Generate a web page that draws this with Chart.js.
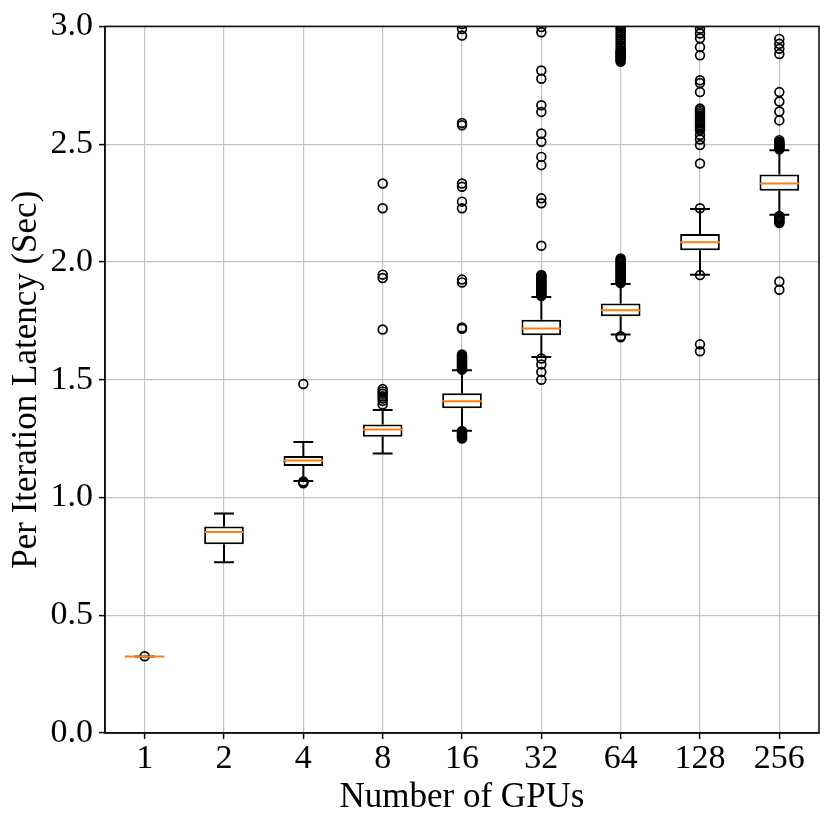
<!DOCTYPE html>
<html>
<head>
<meta charset="utf-8">
<script src="https://cdn.jsdelivr.net/npm/chart.js@4.4.1/dist/chart.umd.min.js"></script>
<style>
  html, body { margin: 0; padding: 0; background: #fff; overflow: hidden; }
  canvas { display: block; }
</style>
</head>
<body>
<canvas id="latencyChart" width="831" height="827"></canvas>
<script>
// Per-iteration latency distribution by GPU count
const gpuLabels = ['1', '2', '4', '8', '16', '32', '64', '128', '256'];
const q1 = [0.324, 0.801, 1.134, 1.258, 1.379, 1.689, 1.769, 2.050, 2.302];
const q3 = [0.326, 0.877, 1.176, 1.310, 1.442, 1.755, 1.823, 2.119, 2.371];
const medians = [0.325, 0.853, 1.157, 1.289, 1.409, 1.717, 1.795, 2.084, 2.333];
const whiskerLow = [0.325, 0.725, 1.070, 1.187, 1.283, 1.596, 1.692, 1.946, 2.200];
const whiskerHigh = [0.325, 0.932, 1.236, 1.371, 1.540, 1.851, 1.906, 2.225, 2.474];
const yTicks = [0, 0.5, 1.0, 1.5, 2.0, 2.5, 3.0];

const outliers1 = [0.326];
const outliers2 = [];
const outliers4 = [1.068, 1.064, 1.060, 1.482];
const outliers8 = [1.395, 1.410, 1.420, 1.430, 1.440, 1.450, 1.460, 1.713, 1.932, 1.946, 2.228, 2.333];
const outliers16 = [1.250, 1.254, 1.258, 1.262, 1.266, 1.270, 1.274, 1.278, 1.282,
  1.543, 1.547, 1.551, 1.555, 1.559, 1.563, 1.567, 1.571, 1.575, 1.579, 1.583, 1.587, 1.591, 1.595, 1.599, 1.603, 1.607,
  1.716, 1.722, 1.913, 1.925, 2.228, 2.256, 2.319, 2.333, 2.580, 2.590, 2.961, 2.989, 3.010];
const outliers32 = [1.500, 1.533, 1.565, 1.590,
  1.855, 1.860, 1.865, 1.870, 1.875, 1.880, 1.885, 1.890, 1.895, 1.900, 1.905, 1.910, 1.915, 1.920, 1.925, 1.930, 1.935, 1.940, 1.945,
  2.069, 2.249, 2.270, 2.411, 2.446, 2.510, 2.545, 2.637, 2.665, 2.778, 2.813, 2.975, 2.997, 3.015];
const outliers64 = [1.680, 1.685,
  1.910, 1.915, 1.920, 1.925, 1.930, 1.935, 1.940, 1.945, 1.950, 1.955, 1.960, 1.965, 1.970, 1.975, 1.980, 1.985, 1.990, 1.995, 2.000, 2.005, 2.010, 2.015,
  2.850, 2.855, 2.860, 2.865, 2.870, 2.875, 2.880, 2.885, 2.890, 2.895, 2.900, 2.910, 2.920, 2.930, 2.940, 2.950, 2.960, 2.970, 2.980, 2.990, 3.000, 3.010];
const outliers128 = [1.621, 1.650, 1.944, 2.228, 2.418, 2.496, 2.520, 2.539,
  2.559, 2.565, 2.572, 2.580, 2.588, 2.596, 2.604, 2.612, 2.620, 2.628, 2.636, 2.644, 2.651,
  2.721, 2.760, 2.771, 2.877, 2.912, 2.950, 2.970, 2.990, 3.010];
const outliers256 = [1.882, 1.917,
  2.165, 2.170, 2.175, 2.180, 2.185, 2.190, 2.195,
  2.478, 2.482, 2.486, 2.490, 2.494, 2.498, 2.502, 2.506, 2.510, 2.517,
  2.601, 2.639, 2.681, 2.721, 2.883, 2.905, 2.926, 2.947];
const outlierLists = [outliers1, outliers2, outliers4, outliers8, outliers16, outliers32, outliers64, outliers128, outliers256];

const FONT = "'Liberation Serif', 'Times New Roman', serif";

// flatten outliers into points keyed by category label
const outlierPoints = [];
outlierLists.forEach((list, i) => {
    list.forEach(v => outlierPoints.push({ x: gpuLabels[i], y: v }));
});

// whiskers, caps and median lines, placed with the chart's own scales
const boxExtras = {
    id: 'boxExtras',
    afterDatasetsDraw(chart) {
        const ctx = chart.ctx;
        const xs = chart.scales.x;
        const ys = chart.scales.y;
        const step = xs.getPixelForValue(1) - xs.getPixelForValue(0);
        const boxHalf = step * 0.25;
        const capHalf = step * 0.125;
        ctx.save();
        ctx.beginPath();
        ctx.rect(chart.chartArea.left, chart.chartArea.top, chart.chartArea.width, chart.chartArea.height);
        ctx.clip();
        ctx.lineWidth = 2;
        ctx.strokeStyle = '#000';
        gpuLabels.forEach((lab, i) => {
            const cx = xs.getPixelForValue(i);
            const yq1 = ys.getPixelForValue(q1[i]);
            const yq3 = ys.getPixelForValue(q3[i]);
            const ylo = ys.getPixelForValue(whiskerLow[i]);
            const yhi = ys.getPixelForValue(whiskerHigh[i]);
            ctx.beginPath();
            ctx.moveTo(cx, yq3); ctx.lineTo(cx, yhi);
            ctx.moveTo(cx, yq1); ctx.lineTo(cx, ylo);
            ctx.moveTo(cx - capHalf, yhi); ctx.lineTo(cx + capHalf, yhi);
            ctx.moveTo(cx - capHalf, ylo); ctx.lineTo(cx + capHalf, ylo);
            ctx.stroke();
        });
        ctx.strokeStyle = '#ff7f0e';
        gpuLabels.forEach((lab, i) => {
            const cx = xs.getPixelForValue(i);
            const ym = ys.getPixelForValue(medians[i]);
            ctx.beginPath();
            ctx.moveTo(cx - boxHalf, ym); ctx.lineTo(cx + boxHalf, ym);
            ctx.stroke();
        });
        ctx.restore();
    },
    afterDraw(chart) {
        // top and right spines
        const a = chart.chartArea;
        const ctx = chart.ctx;
        ctx.save();
        ctx.strokeStyle = '#111';
        ctx.lineWidth = 1.6;
        ctx.strokeRect(a.left, a.top, a.right - a.left, a.bottom - a.top);
        ctx.restore();
    }
};

const ctx = document.getElementById('latencyChart').getContext('2d');
new Chart(ctx, {
    type: 'bar',
    data: {
        labels: gpuLabels,
        datasets: [
            {
                type: 'bar',
                data: gpuLabels.map((l, i) => [q1[i], q3[i]]),
                backgroundColor: '#ffffff',
                borderColor: '#000000',
                borderWidth: 2,
                borderSkipped: false,
                barPercentage: 0.5,
                categoryPercentage: 1.0,
                order: 2
            },
            {
                type: 'line',
                data: outlierPoints,
                showLine: false,
                pointStyle: 'circle',
                pointRadius: 4.4,
                pointHoverRadius: 4.4,
                pointBorderWidth: 1.7,
                pointBorderColor: '#000000',
                pointBackgroundColor: 'rgba(0,0,0,0)',
                clip: 0,
                order: 1
            }
        ]
    },
    options: {
        responsive: false,
        animation: false,
        events: [],
        layout: { padding: { top: 24, right: 12, left: 0, bottom: 0 } },
        plugins: {
            legend: { display: false },
            tooltip: { enabled: false }
        },
        scales: {
            x: {
                type: 'category',
                offset: true,
                grid: { offset: false, color: '#c4c4c4', lineWidth: 1.2, tickLength: 6, tickColor: '#000', tickWidth: 1.5 },
                border: { color: '#111', width: 1.6 },
                ticks: { color: '#000', font: { family: FONT, size: 34 }, padding: 0, maxRotation: 0 },
                title: { display: true, text: 'Number of GPUs', color: '#000', font: { family: FONT, size: 35 }, padding: { top: 0, bottom: 8 } },
                afterFit(scale) { scale.height = 94; }
            },
            y: {
                type: 'linear',
                min: 0,
                max: 3,
                afterBuildTicks(scale) { scale.ticks = yTicks.map(v => ({ value: v })); },
                grid: { color: '#c4c4c4', lineWidth: 1.2, tickLength: 6, tickColor: '#000', tickWidth: 1.5 },
                border: { color: '#111', width: 1.6 },
                ticks: { color: '#000', font: { family: FONT, size: 34 }, padding: 6, callback: v => v.toFixed(1) },
                title: { display: true, text: 'Per Iteration Latency (Sec)', color: '#000', font: { family: FONT, size: 35 }, padding: { top: 6, bottom: 0 } },
                afterFit(scale) { scale.width = 105; }
            }
        }
    },
    plugins: [boxExtras]
});
</script>
</body>
</html>
